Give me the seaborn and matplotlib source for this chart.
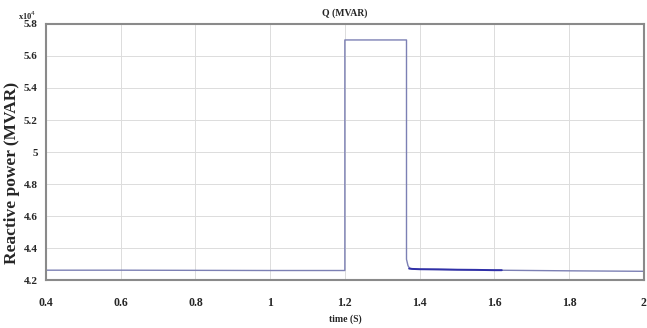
import matplotlib
matplotlib.use("Agg")
import matplotlib.pyplot as plt
import seaborn as sns
import pandas as pd

# data (Q in units of 1e4 MVAR)
time_s = [0.4, 0.6, 0.8, 1.0, 1.2, 1.2, 1.365, 1.365, 1.369, 1.373, 1.38, 1.4, 1.5, 1.6, 1.8, 2.0]
q_val = [4.262, 4.262, 4.261, 4.260, 4.260, 5.70, 5.70, 4.33, 4.29, 4.275, 4.270, 4.268, 4.265, 4.262, 4.258, 4.255]
osc_time = [1.372, 1.38, 1.40, 1.45, 1.50, 1.55, 1.60, 1.62]
osc_val = [4.272, 4.270, 4.268, 4.267, 4.265, 4.264, 4.262, 4.262]
xticks = [0.4, 0.6, 0.8, 1.0, 1.2, 1.4, 1.6, 1.8, 2.0]
xtick_labels = ["0.4", "0.6", "0.8", "1", "1.2", "1.4", "1.6", "1.8", "2"]
yticks = [4.2, 4.4, 4.6, 4.8, 5.0, 5.2, 5.4, 5.6, 5.8]
ytick_labels = ["4.2", "4.4", "4.6", "4.8", "5", "5.2", "5.4", "5.6", "5.8"]

sns.set_style("white")
plt.rcParams['font.family'] = ['Liberation Serif', 'DejaVu Serif']

fig = plt.figure(figsize=(6.47, 3.28), dpi=100)
ax = fig.add_axes([0.071, 0.146, 0.924, 0.781])

df = pd.DataFrame({"t": time_s, "q": q_val})
dfo = pd.DataFrame({"t": osc_time, "q": osc_val})
sns.lineplot(data=df, x="t", y="q", ax=ax, estimator=None, sort=False,
             color="#7c80b4", linewidth=1.0)
sns.lineplot(data=dfo, x="t", y="q", ax=ax, estimator=None, sort=False,
             color="#3030a8", linewidth=1.4)

ax.set_xlim(0.4, 2.0)
ax.set_ylim(4.2, 5.8)
ax.set_xticks(xticks)
ax.set_xticklabels(xtick_labels, fontsize=8.5, fontweight="bold")
ax.set_yticks(yticks)
ax.set_yticklabels(ytick_labels, fontsize=8, fontweight="bold")
ax.tick_params(axis="x", direction="in", length=3, color="#888888", pad=12)
ax.tick_params(axis="y", direction="in", length=3, color="#888888", pad=6)
ax.grid(True, color="#dcdcdc", linewidth=0.7)
for s in ax.spines.values():
    s.set_color("#8a8a8a")
    s.set_linewidth(1.5)

ax.set_title("Q (MVAR)", fontsize=7, fontweight="bold", pad=6)
ax.set_xlabel("time (S)", fontsize=7, fontweight="bold", labelpad=4)
ax.set_ylabel("Reactive power (MVAR)", fontsize=12.5, fontweight="bold")
ax.yaxis.set_label_coords(-0.043, 0.42)
fig.text(0.028, 0.94, r"x10$^{4}$", fontsize=6, fontweight="bold")

fig.savefig("out.png", dpi=100)
